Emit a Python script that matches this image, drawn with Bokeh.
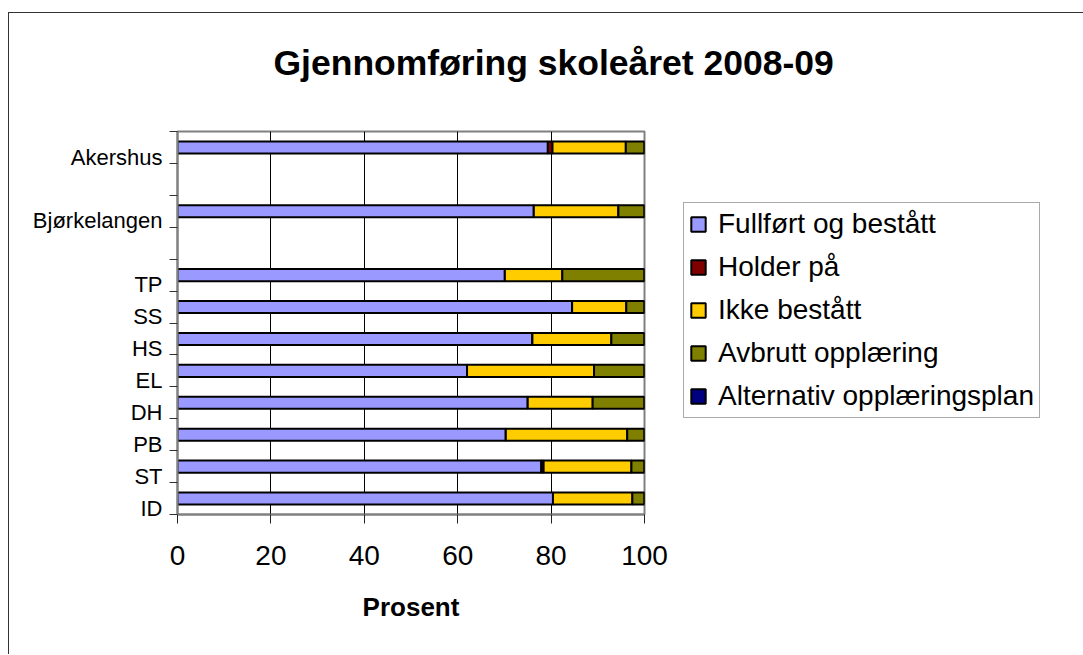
from bokeh.plotting import figure
from bokeh.models import ColumnDataSource, Range1d, FixedTicker, Legend, LegendItem, Title
from bokeh.embed import file_html
from bokeh.resources import INLINE

# ---- data (bottom to top) ----
slots = ["ID", "ST", "PB", "DH", "EL", "HS", "SS", "TP", "", "Bjørkelangen", "", "Akershus"]
categories = ["ID", "ST", "PB", "DH", "EL", "HS", "SS", "TP", "Bjørkelangen", "Akershus"]
fullfort = [80.4, 77.9, 70.3, 75.0, 62.0, 76.0, 84.5, 70.1, 76.3, 79.3]
holder = [0.0, 0.5, 0.0, 0.0, 0.0, 0.0, 0.0, 0.0, 0.0, 1.0]
ikke = [17.0, 18.8, 26.0, 13.9, 27.2, 16.9, 11.6, 12.3, 18.1, 15.7]
avbrutt = [2.6, 2.8, 3.7, 11.1, 10.8, 7.1, 3.9, 17.6, 5.6, 4.0]
alternativ = [0.0] * 10
series_names = ["Fullført og bestått", "Holder på", "Ikke bestått", "Avbrutt opplæring", "Alternativ opplæringsplan"]
colors = ["#9999FF", "#800000", "#FFCC00", "#808000", "#000080"]
x_ticks = [0, 20, 40, 60, 80, 100]
title_text = "Gjennomføring skoleåret 2008-09"

FONT = "Liberation Sans"

ypos = [slots.index(c) + 0.5 for c in categories]
src = ColumnDataSource(dict(y=ypos, f=fullfort, h=holder, i=ikke, a=avbrutt, alt=alternativ))

p = figure(title=None, frame_width=467, frame_height=383, x_range=Range1d(0, 100),
           y_range=Range1d(0, len(slots)), output_backend="svg", toolbar_location=None,
           min_border_left=168, min_border_top=118, min_border_right=0, min_border_bottom=140)
p.styles = {"border-left": "1px solid #333", "border-top": "1px solid #333",
            "margin-top": "12px", "margin-left": "8px"}

renderers = p.hbar_stack(["f", "h", "i", "a", "alt"], y="y", height=0.38, color=colors,
                         line_color="black", line_width=2, source=src)

# title: a blank spacer next to the frame, then the real title above it
p.add_layout(Title(text=" ", text_font=FONT, text_font_size="38px", standoff=0), "above")
p.add_layout(Title(text=title_text, align="left", offset=96, text_font=FONT,
                   text_font_style="bold", text_font_size="35.5px", text_color="black",
                   standoff=10), "above")

# grid
p.ygrid.visible = False
p.xgrid.ticker = FixedTicker(ticks=x_ticks)
p.xgrid.grid_line_color = "black"
p.xgrid.grid_line_width = 1
p.outline_line_color = "#808080"
p.outline_line_width = 2

# x axis
xa = p.xaxis[0]
xa.ticker = FixedTicker(ticks=x_ticks)
xa.axis_line_color = "#808080"
xa.axis_line_width = 2
xa.major_tick_out = 9
xa.major_tick_in = 0
xa.major_tick_line_color = "#222"
xa.minor_tick_line_color = None
xa.major_label_text_font = FONT
xa.major_label_text_font_size = "28px"
xa.major_label_text_color = "black"
xa.major_label_standoff = 22
xa.axis_label = "Prosent"
xa.axis_label_text_font = FONT
xa.axis_label_text_font_size = "26px"
xa.axis_label_text_font_style = "bold"
xa.axis_label_text_color = "black"
xa.axis_label_standoff = 24

# y axis: labels sit a bit below the slot centre, ticks at slot boundaries
label_pos = [slots.index(c) + 0.2 for c in categories]
ya = p.yaxis[0]
ya.ticker = FixedTicker(ticks=label_pos, minor_ticks=list(range(len(slots) + 1)))
ya.major_label_overrides = {lp: c for lp, c in zip(label_pos, categories)}
ya.major_tick_out = 0
ya.major_tick_in = 0
ya.major_tick_line_color = None
ya.minor_tick_out = 8
ya.minor_tick_in = 0
ya.minor_tick_line_color = "#333"
ya.axis_line_color = "#808080"
ya.axis_line_width = 2
ya.major_label_text_font = FONT
ya.major_label_text_font_size = "22px"
ya.major_label_text_color = "black"
ya.major_label_standoff = 7

# legend
items = [LegendItem(label=n, renderers=[r]) for n, r in zip(series_names, renderers)]
legend = Legend(items=items, location=(39, 96), label_text_font=FONT, label_text_font_size="28px",
                label_text_color="black", glyph_width=18, glyph_height=18, label_height=31,
                label_standoff=11, padding=5, spacing=11, margin=0,
                border_line_color="#555", border_line_width=1, background_fill_color="white",
                background_fill_alpha=1)
p.add_layout(legend, "right")

open("out.html", "w").write(file_html(p, INLINE))
